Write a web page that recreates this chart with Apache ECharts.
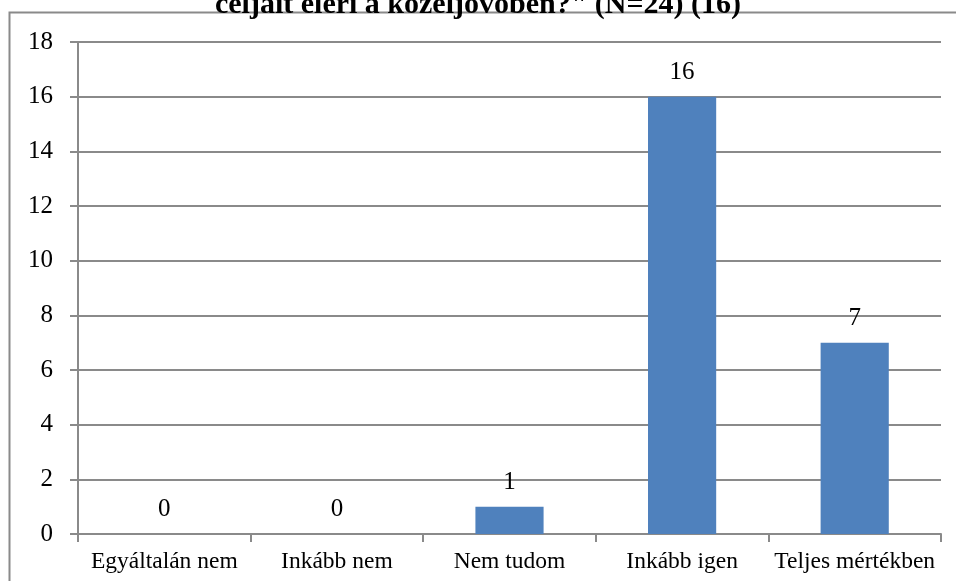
<!DOCTYPE html>
<html>
<head>
<meta charset="utf-8">
<script src="https://cdn.jsdelivr.net/npm/echarts@6/dist/echarts.min.js"></script>
<style>
  html, body { margin: 0; padding: 0; background: #fff; }
  #chart { width: 956px; height: 581px; }
</style>
</head>
<body>
<div id="chart"></div>
<script>
const categories = ["Egyáltalán nem", "Inkább nem", "Nem tudom", "Inkább igen", "Teljes mértékben"];
const values = [0, 0, 1, 16, 7];
const titleText = "céljait éleri a közeljövőben?\" (N=24) (16)";

const gray = "#8a8a8a";
const numFont = "Liberation Serif";

const chart = echarts.init(document.getElementById("chart"));

chart.setOption({
  animation: false,
  title: {
    text: titleText,
    left: "center",
    top: -15,
    textStyle: {
      fontFamily: "Liberation Serif",
      fontWeight: "bold",
      fontSize: 30,
      color: "#000",
    },
  },
  graphic: [
    {
      type: "rect",
      shape: { x: 9.5, y: 12.5, width: 1000, height: 700 },
      style: { fill: "none", stroke: gray, lineWidth: 2 },
      z: -1,
    },
  ],
  grid: {
    left: 78,
    right: 15,
    top: 42,
    bottom: 47,
  },
  xAxis: {
    type: "category",
    data: categories,
    axisLine: { lineStyle: { color: gray, width: 2 } },
    axisTick: { show: true, length: 8, lineStyle: { color: gray, width: 2 } },
    axisLabel: {
      interval: 0,
      hideOverlap: false,
      fontFamily: "Liberation Serif",
      fontSize: 23.5,
      color: "#000",
      margin: 16,
    },
  },
  yAxis: {
    type: "value",
    min: 0,
    max: 18,
    interval: 2,
    axisLine: { show: true, lineStyle: { color: gray, width: 2 } },
    axisTick: { show: true, length: 8, lineStyle: { color: gray, width: 2 } },
    splitLine: { lineStyle: { color: gray, width: 2 } },
    axisLabel: {
      fontFamily: numFont,
      fontSize: 25,
      color: "#000",
      margin: 25,
    },
  },
  series: [
    {
      type: "bar",
      data: values,
      barWidth: "39.5%",
      itemStyle: { color: "#4F81BD" },
      label: {
        show: true,
        position: "top",
        distance: 12,
        fontFamily: numFont,
        fontSize: 25,
        color: "#000",
      },
    },
  ],
});
</script>
</body>
</html>
